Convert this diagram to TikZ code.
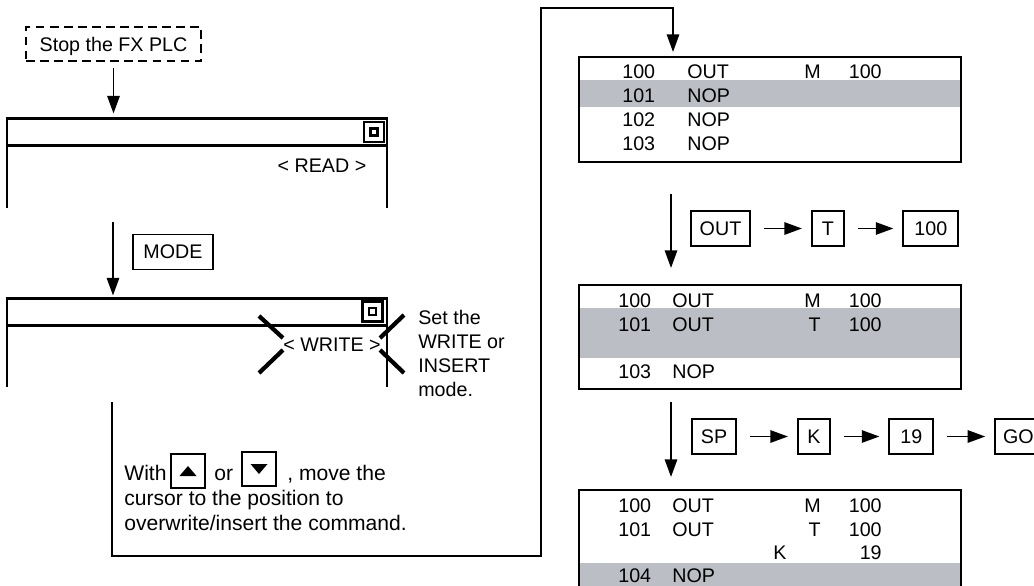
\documentclass[tikz,border=0pt]{standalone}
\usepackage{fontspec}
\setmainfont{Liberation Sans}
\usetikzlibrary{arrows.meta, positioning}
\definecolor{rowgray}{RGB}{187,191,197}
\tikzset{
  stopbox/.style={rectangle, draw, dash pattern=on 5pt off 3pt, line width=1.1pt,
                  minimum width=3.5cm, minimum height=0.68cm, text depth=0pt},
  screenbar/.style={rectangle, draw, line width=1.3pt, outer sep=0pt,
                    minimum width=7.6cm, minimum height=0.54cm},
  screenline/.style={line width=1.3pt},
  ledicon/.style={rectangle, draw, line width=1.3pt, minimum size=0.4cm, inner sep=0pt},
  ledinner/.style={rectangle, draw, line width=1.6pt, minimum size=0.14cm, inner sep=0pt},
  crossline/.style={line width=2.4pt},
  listbox/.style={rectangle, draw, line width=1.3pt, minimum width=7.64cm},
  listline/.style={line width=1.3pt},
  keybox/.style={rectangle, draw, line width=1.1pt, minimum height=0.7cm,
                 minimum width=0.64cm, inner xsep=4.5pt, text depth=0pt},
  cell/.style={anchor=base west, inner sep=0pt},
  cellr/.style={anchor=base east, inner sep=0pt},
  linetxt/.style={anchor=base west, inner sep=0pt, font=\fontsize{12}{14.7}\selectfont},
  arrow/.style={-{Triangle[length=10pt, width=7pt]}, line width=1.1pt},
  keyarrow/.style={arrow, shorten <=0.26cm, shorten >=0.18cm},
}

\begin{document}
\begin{tikzpicture}[x=0.02cm, y=-0.02cm, font=\fontsize{11.2}{13.6}\selectfont]
  \useasboundingbox (0,0) rectangle (1034,585);

  % left column: stop, READ screen, MODE, WRITE screen
  \node[stopbox] (stop) at (113.5,44) {Stop the FX PLC};

  \node[screenbar] (readbar) at (197,132) {};
  \draw[screenline] (readbar.north west) -- ++(0,89);
  \draw[screenline] (readbar.north east) -- ++(0,89);
  \node[ledicon] (readled) at (374,132) {};
  \node[ledinner] (readledin) at (readled) {};
  \node (readtxt) at (322,166) {< READ >};

  \node[keybox, minimum width=1.6cm] (kmode) at (173,252) {MODE};

  \node[screenbar] (writebar) at (197,312) {};
  \draw[screenline] (writebar.north west) -- ++(0,88);
  \draw[screenline] (writebar.north east) -- ++(0,88);
  \node[ledicon] (writeled) at (372.5,311.5) {};
  \node[ledinner] (writeledin) at (writeled) {};
  \node (writetxt) at (332,345) {< WRITE >};
  \draw[crossline] (259,316) -- (283,338);
  \draw[crossline] (283,350) -- (259,373);
  \draw[crossline] (404,315) -- (380,338);
  \draw[crossline] (380,350) -- (404,373);

  \node[anchor=north west, inner sep=0pt, align=left] (settxt) at (418,310)
    {Set the\\WRITE or\\INSERT\\mode.};

  % cursor keys
  \node[linetxt] (withtxt) at (124,480) {With};
  \node[keybox, minimum width=0.68cm, minimum height=0.68cm] (kup) at (188,471) {};
  \node[linetxt] (ortxt) at (214,480) {or};
  \node[keybox, minimum width=0.68cm, minimum height=0.68cm] (kdown) at (259,469) {};
  \node[linetxt] (movetxt) at (287,480) {, move the};
  \node[linetxt] (cursortxt) at (124,505) {cursor to the position to};
  \node[linetxt] (overtxt) at (124,530) {overwrite/insert the command.};
  \fill ([shift={(-8.5,5)}]kup.center) -- ++(17,0) -- ++(-8.5,-10) -- cycle;
  \fill ([shift={(-8.5,-5)}]kdown.center) -- ++(17,0) -- ++(-8.5,10) -- cycle;

  \coordinate (readend) at (113,222);
  \coordinate (writeend) at (112,402);
  \coordinate (list1in) at (673,52);
  \draw[arrow, shorten <=0.12cm, shorten >=0.1cm] (stop) -- (readbar.north -| stop);
  \draw[arrow, shorten >=0.06cm] (readend) -- (writebar.north -| readend);
  \draw[arrow] (writeend) -- ++(0,154) -- ++(429,0) -- ++(0,-548) -| (list1in);

  % right column: program lists
  \fill[rowgray] (579,80) rectangle (961,107);
  \node[listbox, minimum height=2.1cm] (list1) at (770,109.5) {};
  \foreach \yb/\num/\op in {78/100/OUT, 102/101/NOP, 126/102/NOP, 150/103/NOP} {
    \node[cell] (l1n\num) at (622,\yb) {\num};
    \node[cell] (l1op\num) at (687,\yb) {\op};
  }
  \node[cellr] (l1dev) at (821,78) {M};
  \node[cellr] (l1val) at (882,78) {100};

  \coordinate (a1s) at (671,194);
  \coordinate (a1e) at (671,268);
  \draw[arrow] (a1s) -- (a1e);
  \node[keybox, minimum width=1.18cm] (kout) at (720.5,228.5) {OUT};
  \node[keybox, right=1.2cm of kout] (kt) {T};
  \node[keybox, minimum width=1.1cm, right=1.15cm of kt] (k100) {100};
  \draw[keyarrow] (kout) -- (kt);
  \draw[keyarrow] (kt) -- (k100);

  \fill[rowgray] (579,308) rectangle (961,358);
  \node[listbox, minimum height=2.08cm] (list2) at (770,337) {};
  \foreach \yb/\num/\op in {307/100/OUT, 331/101/OUT, 378/103/NOP} {
    \node[cell] (l2n\num) at (618,\yb) {\num};
    \node[cell] (l2op\num) at (672,\yb) {\op};
  }
  \node[cellr] (l2dev1) at (821,307) {M};
  \node[cellr] (l2val1) at (882,307) {100};
  \node[cellr] (l2dev2) at (821,331) {T};
  \node[cellr] (l2val2) at (882,331) {100};

  \coordinate (a2s) at (671,402);
  \coordinate (a2e) at (671,477);
  \draw[arrow] (a2s) -- (a2e);
  \node[keybox, minimum width=0.88cm] (ksp) at (714,436.5) {SP};
  \node[keybox, right=1.2cm of ksp] (kk) {K};
  \node[keybox, minimum width=0.88cm, right=1.15cm of kk] (k19) {19};
  \node[keybox, minimum width=0.86cm, right=1.2cm of k19] (kgo) {GO};
  \draw[keyarrow] (ksp) -- (kk);
  \draw[keyarrow] (kk) -- (k19);
  \draw[keyarrow] (k19) -- (kgo);

  \fill[rowgray] (579,563) rectangle (961,590);
  \draw[listline] (579,590) |- (961,490) -- (961,590);
  \coordinate (list3) at (770,490);
  \foreach \yb/\num/\op in {512/100/OUT, 536/101/OUT, 582/104/NOP} {
    \node[cell] (l3n\num) at (618,\yb) {\num};
    \node[cell] (l3op\num) at (672,\yb) {\op};
  }
  \node[cellr] (l3dev1) at (821,512) {M};
  \node[cellr] (l3val1) at (882,512) {100};
  \node[cellr] (l3dev2) at (821,536) {T};
  \node[cellr] (l3val2) at (882,536) {100};
  \node[cell] (l3k) at (773,559) {K};
  \node[cellr] (l3val3) at (882,559) {19};
\end{tikzpicture}
\end{document}
